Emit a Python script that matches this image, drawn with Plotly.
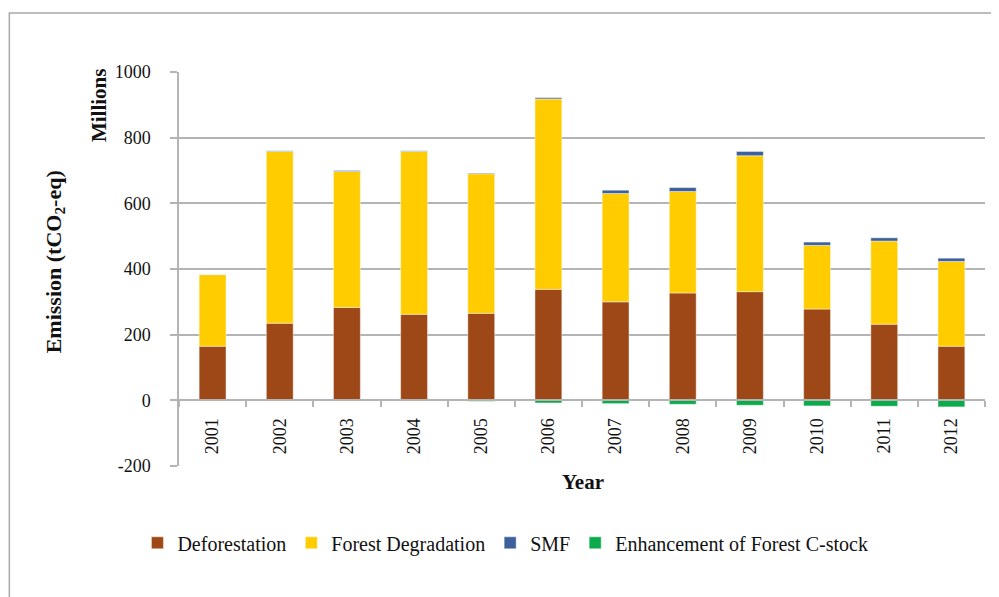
import plotly.graph_objects as go

years = ["2001", "2002", "2003", "2004", "2005", "2006",
         "2007", "2008", "2009", "2010", "2011", "2012"]
deforestation = [165, 235, 283, 262, 265, 338, 300, 327, 331, 278, 232, 165]
forest_degradation = [218, 523, 414, 496, 425, 580, 330, 309, 414, 194, 253, 258]
smf = [1, 2, 3, 2, 2, 4, 10, 12, 13, 10, 10, 10]
enhancement = [0, -0.5, -1, -2, -3, -8, -10, -12, -15, -17, -18, -20]

y_ticks = [-200, 0, 200, 400, 600, 800, 1000]
y_tick_labels = ["-200", "0", "200", "400", "600", "800", "1000"]

FONT = "Liberation Serif"
GRID = "#b4b4b4"

fig = go.Figure()
series = [
    ("Deforestation", deforestation, "#9E4817"),
    ("Forest Degradation", forest_degradation, "#FFCC00"),
    ("SMF", smf, "#3D5F9A"),
    ("Enhancement of Forest C-stock", enhancement, "#0BAA4A"),
]
for name, vals, col in series:
    fig.add_trace(go.Bar(
        x=years, y=vals, name=name,
        marker=dict(color=col, line=dict(color="rgba(255,255,255,0.55)", width=0.8)),
    ))

fig.update_layout(
    barmode="relative",
    bargap=0.6,
    width=999, height=597,
    margin=dict(l=171, r=22, t=64, b=139),
    paper_bgcolor="white", plot_bgcolor="white",
    font=dict(family=FONT, size=18, color="#111111"),
    showlegend=True,
    legend=dict(
        orientation="h", x=0.405, xanchor="center", y=-0.195, yanchor="middle",
        font=dict(family=FONT, size=20, color="#111111"),
        traceorder="normal", itemwidth=30,
    ),
    xaxis=dict(
        type="category",
        anchor="free", position=1/6,
        showline=True, linecolor=GRID, linewidth=1.5,
        ticks="outside", tickson="boundaries", ticklen=6, tickcolor=GRID, tickwidth=1.5,
        tickangle=-90, tickfont=dict(family=FONT, size=18),
        ticklabelstandoff=10,
        showgrid=False,
    ),
    yaxis=dict(
        range=[-200, 1000], tickvals=y_ticks, ticktext=y_tick_labels,
        showline=True, linecolor=GRID, linewidth=1.5,
        ticks="outside", ticklen=7, tickcolor=GRID, tickwidth=1.5,
        showgrid=True, gridcolor=GRID, gridwidth=1.5,
        zeroline=False,
        tickfont=dict(family=FONT, size=18),
        ticklabelstandoff=16,
    ),
    shapes=[dict(
        type="rect", xref="paper", yref="paper",
        x0=-0.2105, x1=1.031, y0=-0.37, y1=1.150,
        line=dict(color="#a8a8a8", width=1.5), fillcolor="rgba(0,0,0,0)", layer="below",
    )],
    annotations=[
        dict(text="<b>Millions</b>", xref="paper", yref="paper", x=-0.0993, y=0.916,
             textangle=-90, showarrow=False, font=dict(family=FONT, size=21),
             xanchor="center", yanchor="middle"),
        dict(text="<b>Emission (tCO<sub>2</sub>-eq)</b>", xref="paper", yref="paper",
             x=-0.1538, y=0.517, textangle=-90, showarrow=False,
             font=dict(family=FONT, size=22), xanchor="center", yanchor="middle"),
        dict(text="<b>Year</b>", xref="paper", yref="paper", x=0.501, y=-0.0417,
             showarrow=False, font=dict(family=FONT, size=21),
             xanchor="center", yanchor="middle"),
    ],
)

fig.write_html("out.html")
